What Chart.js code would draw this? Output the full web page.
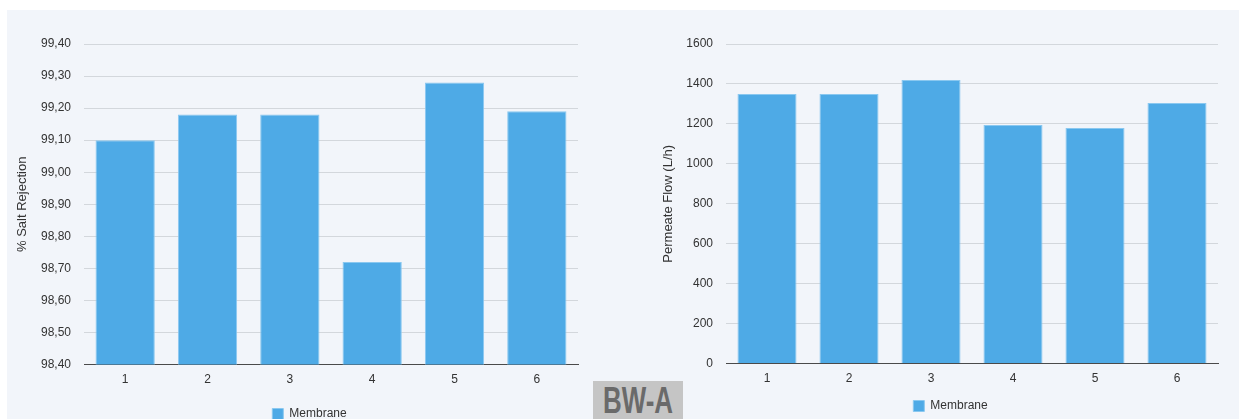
<!DOCTYPE html>
<html>
<head>
<meta charset="utf-8">
<script src="https://cdn.jsdelivr.net/npm/chart.js@4"></script>
<style>
  html, body { margin: 0; padding: 0; width: 1239px; height: 419px; overflow: hidden; background: #ffffff; }
  #panel { position: absolute; left: 7px; top: 10px; width: 1232px; height: 420px; background: #f2f5fa; }
  .wrap { position: absolute; }
  #leftWrap { left: 7px; top: 10px; width: 612px; height: 420px; }
  #rightWrap { left: 650px; top: 10px; width: 608px; height: 412px; }
  #badge {
    position: absolute; left: 593px; top: 381px; width: 90px; height: 40px;
    background: #c5c5c5; overflow: hidden;
  }
  #badge span {
    position: absolute; left: -15px; top: 1.5px; width: 120px; text-align: center;
    white-space: nowrap;
    color: #6a6a6a;
    font-family: "Liberation Sans", Arial, sans-serif;
    font-weight: bold; font-size: 36px; line-height: 1;
    transform: scaleX(0.72); transform-origin: 60px 0;
  }
</style>
</head>
<body>
<div id="panel"></div>
<div class="wrap" id="leftWrap"><canvas id="rejection"></canvas></div>
<div class="wrap" id="rightWrap"><canvas id="flow"></canvas></div>
<div id="badge"><span>BW-A</span></div>
<script>
// Membrane numbers along the x axis
const membranes = ['1', '2', '3', '4', '5', '6'];
const seriesName = 'Membrane';

// Salt rejection per membrane (%)
const saltRejection = [99.10, 99.18, 99.18, 98.72, 99.28, 99.19];
// Permeate flow per membrane (L/h)
const permeateFlow = [1350, 1350, 1420, 1195, 1180, 1305];

// Y-axis tick values
const rejectionTicks = [98.4, 98.5, 98.6, 98.7, 98.8, 98.9, 99.0, 99.1, 99.2, 99.3, 99.4];
const flowTicks = [0, 200, 400, 600, 800, 1000, 1200, 1400, 1600];

const FONT = '"Liberation Sans", Arial, Helvetica, sans-serif';
const TEXT = '#333333';
const BAR = '#4eaae6';
const BAR_EDGE = '#8ac8f0';

// Nudges the legend sideways after layout so it sits under the plot
const legendShift = {
  id: 'legendShift',
  afterLayout(chart, args, opts) {
    const lg = chart.legend;
    if (lg && opts.dx) { lg.left += opts.dx; lg.right += opts.dx; }
  }
};

function makeChart(canvasId, values, ticks, title, formatTick, geom) {
  return new Chart(document.getElementById(canvasId), {
    type: 'bar',
    plugins: [legendShift],
    data: {
      labels: membranes,
      datasets: [{
        label: seriesName,
        data: values,
        backgroundColor: BAR,
        borderColor: BAR_EDGE,
        borderWidth: 1,
        categoryPercentage: 0.8,
        barPercentage: 0.9
      }]
    },
    options: {
      responsive: true,
      maintainAspectRatio: false,
      animation: false,
      layout: { padding: geom.padding },
      plugins: {
        tooltip: { enabled: false },
        legendShift: { dx: geom.legendDx },
        legend: {
          position: 'bottom',
          labels: {
            boxWidth: 11,
            boxHeight: 11,
            padding: geom.legendPad,
            color: TEXT,
            font: { family: FONT, size: 12 }
          }
        }
      },
      scales: {
        x: {
          grid: { display: false },
          border: { display: true, color: '#4a4a4a', width: 1 },
          ticks: { color: TEXT, font: { family: FONT, size: 12 }, padding: 0 }
        },
        y: {
          min: ticks[0],
          max: ticks[ticks.length - 1],
          afterBuildTicks: (scale) => { scale.ticks = ticks.map(v => ({ value: v })); },
          afterFit: (scale) => { scale.width = geom.yWidth; },
          grid: { color: '#d3d7dc', lineWidth: 1, drawTicks: false },
          border: { display: false },
          ticks: {
            color: TEXT,
            font: { family: FONT, size: 12 },
            padding: 13,
            callback: formatTick
          },
          title: {
            display: true,
            text: title,
            color: TEXT,
            font: { family: FONT, size: 13 },
            padding: { top: 2, bottom: 2 }
          }
        }
      }
    }
  });
}

makeChart('rejection', saltRejection, rejectionTicks, '% Salt Rejection',
  (v) => Number(v).toFixed(2).replace('.', ','),
  { padding: { top: 34, right: 41, left: 6, bottom: 0 }, yWidth: 71, legendPad: 21, legendDx: 14 });

makeChart('flow', permeateFlow, flowTicks, 'Permeate Flow (L/h)',
  (v) => String(v),
  { padding: { top: 34, right: 40, left: 9, bottom: 0 }, yWidth: 67, legendPad: 14, legendDx: 12 });
</script>
</body>
</html>
